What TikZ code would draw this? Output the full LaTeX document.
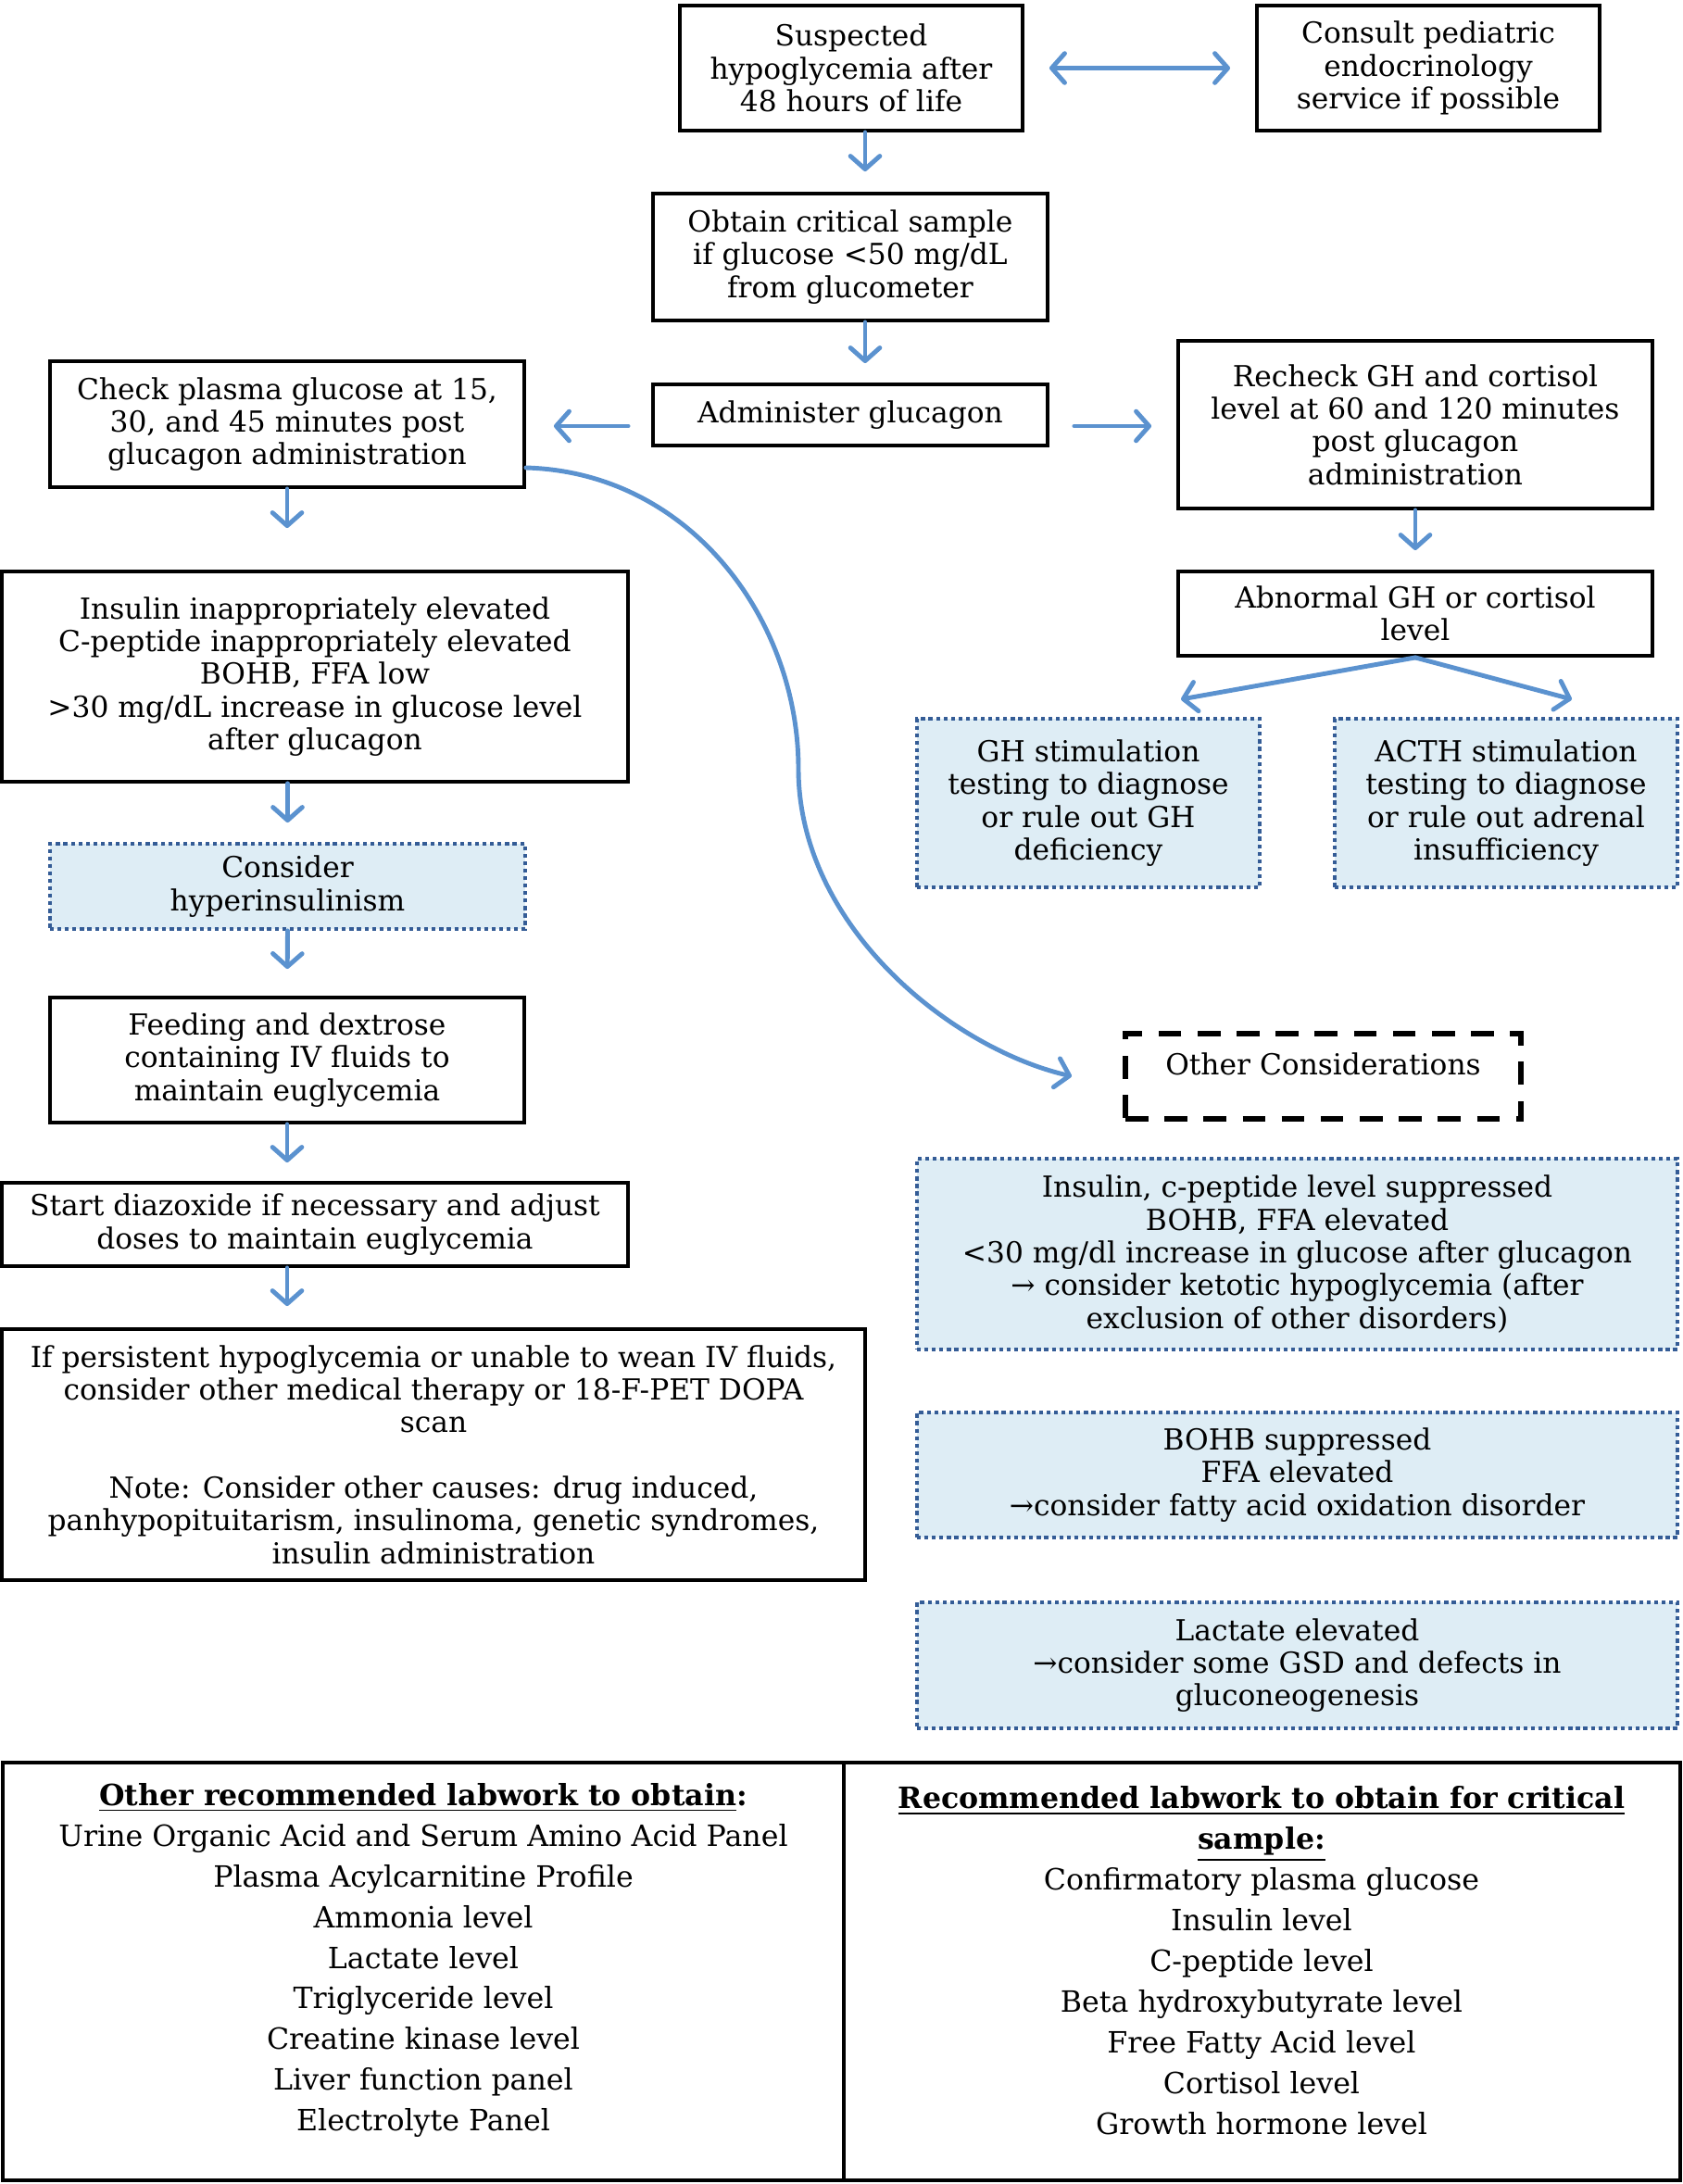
\documentclass[tikz,border=0pt]{standalone}
\usepackage{fontspec}
\setmainfont{DejaVu Serif}
\usetikzlibrary{arrows.meta}
\definecolor{arrowblue}{RGB}{91,146,207}
\definecolor{notefill}{RGB}{222,237,245}
\definecolor{notedot}{RGB}{52,92,150}

\begin{document}
\begin{tikzpicture}[
  font=\fontsize{8.9}{10.05}\selectfont,
  >={Straight Barb[length=4pt,width=9pt,line cap=round,line join=round]},
  procbox/.style={draw, line width=1.1pt, align=center, inner sep=2pt},
  notebox/.style={draw=notedot, fill=notefill, line width=1.1pt,
    dash pattern=on 1.2pt off 1.1pt, align=center, inner sep=2pt},
  dashbox/.style={draw, line width=1.5pt, dash pattern=on 7pt off 5pt,
    align=center, inner sep=2pt},
  flow/.style={->, draw=arrowblue, line width=1.4pt, line cap=round}
]
  \useasboundingbox (0,0) rectangle (18.17,-23.58);

  \node[procbox, minimum width=3.70cm, minimum height=1.35cm] (suspect) at (9.19,-0.735)
    {Suspected\\hypoglycemia after\\48 hours of life};
  \node[procbox, minimum width=3.70cm, minimum height=1.35cm] (consult) at (15.42,-0.735)
    {Consult pediatric\\endocrinology\\service if possible};
  \node[procbox, minimum width=4.26cm, minimum height=1.37cm] (sample) at (9.18,-2.775)
    {Obtain critical sample\\if glucose <50 mg/dL\\from glucometer};
  \node[procbox, minimum width=4.26cm, minimum height=0.66cm] (glucagon) at (9.18,-4.48)
    {Administer glucagon};
  \node[procbox, minimum width=5.12cm, minimum height=1.36cm] (check) at (3.10,-4.58)
    {Check plasma glucose at 15,\\30, and 45 minutes post\\glucagon administration};
  \node[procbox, minimum width=5.12cm, minimum height=1.81cm] (recheck) at (15.28,-4.585)
    {Recheck GH and cortisol\\level at 60 and 120 minutes\\post glucagon\\administration};
  \node[procbox, minimum width=5.12cm, minimum height=0.91cm] (abnormal) at (15.28,-6.625)
    {Abnormal GH or cortisol\\level};
  \node[notebox, minimum width=3.70cm, minimum height=1.82cm] (ghtest) at (11.75,-8.67)
    {GH stimulation\\testing to diagnose\\or rule out GH\\deficiency};
  \node[notebox, minimum width=3.70cm, minimum height=1.82cm] (acthtest) at (16.26,-8.67)
    {ACTH stimulation\\testing to diagnose\\or rule out adrenal\\insufficiency};

  \node[procbox, minimum width=6.76cm, minimum height=2.27cm] (insulin) at (3.40,-7.305)
    {Insulin inappropriately elevated\\C-peptide inappropriately elevated\\BOHB, FFA low\\>30 mg/dL increase in glucose level\\after glucagon};
  \node[notebox, minimum width=5.13cm, minimum height=0.92cm] (hyper) at (3.105,-9.57)
    {Consider\\hyperinsulinism};
  \node[procbox, minimum width=5.12cm, minimum height=1.35cm] (feeding) at (3.10,-11.445)
    {Feeding and dextrose\\containing IV fluids to\\maintain euglycemia};
  \node[procbox, minimum width=6.76cm, minimum height=0.90cm] (diazox) at (3.40,-13.22)
    {Start diazoxide if necessary and adjust\\doses to maintain euglycemia};
  \node[procbox, minimum width=9.32cm, minimum height=2.71cm] (persist) at (4.68,-15.705)
    {If persistent hypoglycemia or unable to wean IV fluids,\\consider other medical therapy or 18-F-PET DOPA\\scan\\[10pt]
     Note: Consider other causes: drug induced,\\panhypopituitarism, insulinoma, genetic syndromes,\\insulin administration};

  \node[dashbox, minimum width=4.27cm, minimum height=0.92cm, text depth=0.26cm] (otherc) at (14.285,-11.62)
    {Other Considerations};
  \node[notebox, minimum width=8.21cm, minimum height=2.06cm] (ketotic) at (14.005,-13.54)
    {Insulin, c-peptide level suppressed\\BOHB, FFA elevated\\<30 mg/dl increase in glucose after glucagon\\→ consider ketotic hypoglycemia (after\\exclusion of other disorders)};
  \node[notebox, minimum width=8.21cm, minimum height=1.35cm] (fatty) at (14.005,-15.925)
    {BOHB suppressed\\FFA elevated\\→consider fatty acid oxidation disorder};
  \node[notebox, minimum width=8.21cm, minimum height=1.36cm] (lactate) at (14.005,-17.98)
    {Lactate elevated\\→consider some GSD and defects in\\gluconeogenesis};

  \draw[flow, <->, shorten <=0.27cm, shorten >=0.27cm] (suspect.east) -- (consult.west);
  \draw[flow, shorten >=0.22cm] ([xshift=0.15cm]suspect.south) -- ([xshift=0.16cm]sample.north);
  \draw[flow, shorten >=0.21cm] ([xshift=0.16cm]sample.south) -- ([xshift=0.16cm]glucagon.north);
  \draw[flow, shorten <=0.25cm, shorten >=0.30cm]
    ([yshift=-0.12cm]glucagon.west) -- ([yshift=-0.12cm]glucagon.west -| check.east);
  \draw[flow, shorten <=0.27cm, shorten >=0.27cm]
    ([yshift=-0.12cm]glucagon.east) -- ([yshift=-0.12cm]glucagon.east -| recheck.west);
  \draw[flow, shorten >=0.21cm] (recheck.south) -- (abnormal.north);
  \coordinate (ghtip) at (12.75,-7.55);
  \coordinate (acthtip) at (16.97,-7.55);
  \draw[flow] (abnormal.south) -- (ghtip);
  \draw[flow] (abnormal.south) -- (acthtip);

  \draw[flow, shorten >=0.45cm] (check.south) -- (check.south |- insulin.north);
  \draw[flow, shorten >=0.21cm] (insulin.south -| hyper.north) -- (hyper.north);
  \draw[flow, shorten >=0.29cm] (hyper.south) -- (feeding.north);
  \draw[flow, shorten >=0.20cm] (feeding.south) -- (feeding.south |- diazox.north);
  \draw[flow, shorten >=0.23cm] (diazox.south -| feeding.south) -- (feeding.south |- persist.north);

  \coordinate (curvebend) at (8.62,-8.30);
  \coordinate (curveend) at (11.57,-11.62);
  \draw[flow] ([yshift=-0.47cm]check.east) .. controls +(1.78,-0.05) and +(0,1.6) .. (curvebend)
    .. controls +(0,-1.7) and +(-1.3,0.3) .. (curveend);

  \draw[line width=1.1pt] (0.03,-19.03) rectangle (18.14,-23.54);
  \draw[line width=1.1pt] (9.11,-19.03) -- (9.11,-23.54);
  \node[align=center, font=\fontsize{9}{12.5}\selectfont] (otherlabs) at (4.57,-21.165)
    {\textbf{\underline{Other recommended labwork to obtain}:}\\
     Urine Organic Acid and Serum Amino Acid Panel\\Plasma Acylcarnitine Profile\\
     Ammonia level\\Lactate level\\Triglyceride level\\Creatine kinase level\\
     Liver function panel\\Electrolyte Panel};
  \node[align=center, font=\fontsize{9}{12.5}\selectfont] (critlabs) at (13.62,-21.165)
    {\textbf{\underline{Recommended labwork to obtain for critical}}\\
     \textbf{\underline{sample:}}\\Confirmatory plasma glucose\\Insulin level\\
     C-peptide level\\Beta hydroxybutyrate level\\Free Fatty Acid level\\
     Cortisol level\\Growth hormone level};
\end{tikzpicture}
\end{document}
